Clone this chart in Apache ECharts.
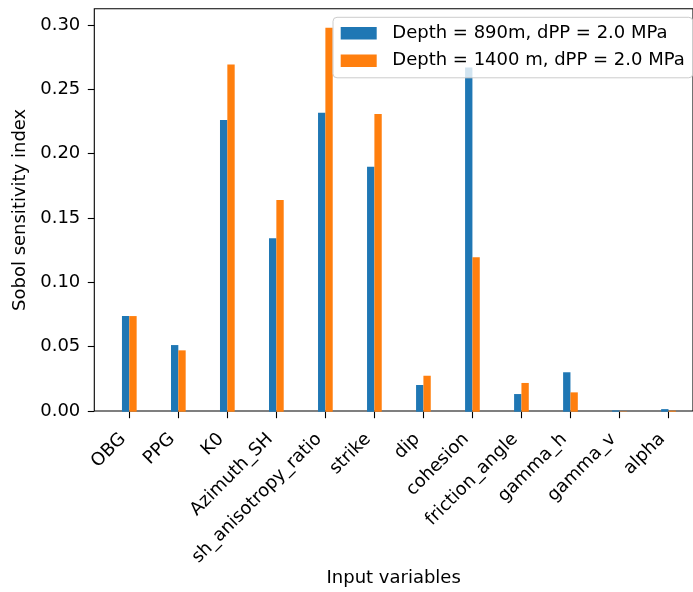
<!DOCTYPE html>
<html>
<head>
<meta charset="utf-8">
<script src="https://cdn.jsdelivr.net/npm/echarts@6/dist/echarts.min.js"></script>
<style>
  html, body { margin: 0; padding: 0; background: #fff; }
  #chart { width: 693px; height: 592px; }
</style>
</head>
<body>
<div id="chart"></div>
<script>
// Input variables and their Sobol indices for the two scenarios
const categories = ['OBG', 'PPG', 'K0', 'Azimuth_SH', 'sh_anisotropy_ratio', 'strike',
  'dip', 'cohesion', 'friction_angle', 'gamma_h', 'gamma_v', 'alpha'];
const depth890 = [0.0742, 0.0517, 0.2263, 0.1345, 0.2320, 0.1900, 0.0207, 0.2670,
  0.0137, 0.0306, 0.0010, 0.0020];
const depth1400 = [0.0742, 0.0476, 0.2695, 0.1642, 0.2980, 0.2310, 0.0279, 0.1198,
  0.0223, 0.0150, 0.0003, 0.0008];
const seriesNames = ['Depth = 890m, dPP = 2.0 MPa', 'Depth = 1400 m, dPP = 2.0 MPa'];
const yTicks = [0, 0.05, 0.10, 0.15, 0.20, 0.25, 0.30];

const FONT = 'DejaVu Sans';
const FS = 18;
const Y_MAX = 0.3127;

const chart = echarts.init(document.getElementById('chart'), null, { renderer: 'canvas' });

chart.setOption({
  animation: false,
  backgroundColor: '#ffffff',
  textStyle: { fontFamily: FONT, color: '#000' },
  grid: [
    // frame with the y scale (spans the full x range, including margins)
    { left: 94.3, right: -10.7, top: 8.7, bottom: 180.3, show: true,
      borderColor: '#000', borderWidth: 1.1, backgroundColor: 'transparent' },
    // category bands for the bars
    { left: 104.8, width: 588.6, top: 8.7, bottom: 180.3 }
  ],
  xAxis: [
    { gridIndex: 0, type: 'value', min: 0, max: 1,
      axisLine: { show: false }, axisTick: { show: false },
      axisLabel: { show: false }, splitLine: { show: false },
      name: 'Input variables', nameLocation: 'middle', nameGap: 158,
      nameTextStyle: { fontFamily: FONT, fontSize: FS, color: '#000' } },
    { gridIndex: 1, type: 'category', data: categories, boundaryGap: true,
      axisLine: { show: false },
      axisTick: { show: true, alignWithLabel: true, length: 6.5, inside: false,
        lineStyle: { color: '#000', width: 1.1 } },
      axisLabel: { interval: 0, rotate: 45, margin: 18.3, padding: [0, 9, 0, 0],
        fontFamily: FONT, fontSize: FS, color: '#000' },
      splitLine: { show: false } }
  ],
  yAxis: [
    { gridIndex: 0, type: 'value', min: 0, max: Y_MAX,
      axisLine: { show: false },
      axisTick: { show: true, length: 6.5, customValues: yTicks,
        lineStyle: { color: '#000', width: 1.1 } },
      axisLabel: { customValues: yTicks, margin: 14, fontFamily: FONT, fontSize: FS,
        color: '#000', formatter: v => v.toFixed(2) },
      splitLine: { show: false },
      name: 'Sobol sensitivity index', nameLocation: 'middle', nameGap: 64,
      nameTextStyle: { fontFamily: FONT, fontSize: FS, color: '#000' } },
    { gridIndex: 1, type: 'value', min: 0, max: Y_MAX, show: false }
  ],
  legend: {
    left: 333, top: 17.3,
    orient: 'vertical',
    data: seriesNames,
    icon: 'rect',
    itemWidth: 36, itemHeight: 12.6, itemGap: 7.5,
    padding: [6, 8, 7, 7.7],
    backgroundColor: 'rgba(255,255,255,0.8)',
    borderColor: '#cccccc', borderWidth: 1, borderRadius: 4,
    textStyle: { fontFamily: FONT, fontSize: FS, color: '#000', lineHeight: 20,
      padding: [0, 0, 0, 10.6] }
  },
  series: [
    { name: seriesNames[0], type: 'bar', xAxisIndex: 1, yAxisIndex: 1,
      data: depth890, barWidth: 7.35, barGap: '0%', itemStyle: { color: '#1f77b4' }, z: 2 },
    { name: seriesNames[1], type: 'bar', xAxisIndex: 1, yAxisIndex: 1,
      data: depth1400, barWidth: 7.35, barGap: '0%', itemStyle: { color: '#ff7f0e' }, z: 2 }
  ]
});
</script>
</body>
</html>
